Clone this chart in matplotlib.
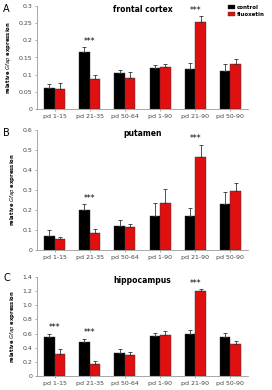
import matplotlib
matplotlib.use("Agg")
import matplotlib.pyplot as plt
import numpy as np

categories = ["pd 1-15", "pd 21-35", "pd 50-64", "pd 1-90", "pd 21-90", "pd 50-90"]

fc_control = [0.062, 0.165, 0.105, 0.120, 0.117, 0.110]
fc_control_err = [0.010, 0.015, 0.010, 0.008, 0.017, 0.020]
fc_fluox = [0.057, 0.087, 0.091, 0.122, 0.253, 0.132]
fc_fluox_err = [0.020, 0.012, 0.017, 0.010, 0.017, 0.015]

pu_control = [0.070, 0.200, 0.122, 0.170, 0.172, 0.228]
pu_control_err = [0.030, 0.028, 0.030, 0.063, 0.040, 0.060]
pu_fluox = [0.053, 0.085, 0.117, 0.233, 0.467, 0.295]
pu_fluox_err = [0.012, 0.022, 0.012, 0.073, 0.060, 0.042]

hi_control = [0.555, 0.475, 0.325, 0.570, 0.600, 0.555]
hi_control_err = [0.045, 0.055, 0.050, 0.045, 0.055, 0.060]
hi_fluox = [0.305, 0.175, 0.300, 0.575, 1.200, 0.455]
hi_fluox_err = [0.070, 0.040, 0.045, 0.065, 0.025, 0.040]

fc_sig = [1, 4]
pu_sig = [1, 4]
hi_sig = [0, 1, 4]

panels = [
    ("A", "frontal cortex", fc_control, fc_control_err, fc_fluox, fc_fluox_err, fc_sig,
     [0, 0.05, 0.1, 0.15, 0.2, 0.25, 0.3], ["0", "0.05", "0.1", "0.15", "0.2", "0.25", "0.3"], 0.3),
    ("B", "putamen", pu_control, pu_control_err, pu_fluox, pu_fluox_err, pu_sig,
     [0, 0.1, 0.2, 0.3, 0.4, 0.5, 0.6], ["0", "0.1", "0.2", "0.3", "0.4", "0.5", "0.6"], 0.6),
    ("C", "hippocampus", hi_control, hi_control_err, hi_fluox, hi_fluox_err, hi_sig,
     [0, 0.2, 0.4, 0.6, 0.8, 1.0, 1.2, 1.4], ["0", "0.2", "0.4", "0.6", "0.8", "1.0", "1.2", "1.4"], 1.4),
]

W, H = 272, 390
fig = plt.figure(figsize=(W / 100, H / 100), dpi=100)
fig.patch.set_facecolor("white")

# (top_px, bottom_px)
boxes = [(6, 109), (130, 250), (277, 376)]
left_px, right_px = 37, 248
letter_y = [4, 128, 273]

x = np.arange(len(categories))
bw = 0.3
red = "#e01010"

for i, (letter, title, c, ce, f, fe, sig, yt, ytl, ymax) in enumerate(panels):
    top, bot = boxes[i]
    hpx = bot - top
    ax = fig.add_axes([left_px / W, 1 - bot / H, (right_px - left_px) / W, hpx / H])
    ekw = dict(elinewidth=0.6, capsize=1.3, capthick=0.6, ecolor="#333333")
    ax.bar(x - bw / 2, c, bw, color="black", edgecolor="#333333", linewidth=0.3,
           yerr=[np.zeros(len(c)), ce], error_kw=ekw, label="control")
    ax.bar(x + bw / 2, f, bw, color=red, edgecolor="#333333", linewidth=0.3,
           yerr=[np.zeros(len(f)), fe], error_kw=ekw, label="fluoxetin")
    ax.set_xlim(-0.5, len(categories) - 0.5)
    ax.set_ylim(0, ymax)
    ax.set_yticks(yt)
    ax.set_yticklabels(ytl, fontsize=4.5, color="#444444")
    ax.set_xticks(x)
    ax.set_xticklabels(categories, fontsize=4.5, color="#444444")
    ax.tick_params(axis="both", length=1.5, width=0.5, color="#888888", pad=2)
    for s in ["top", "right"]:
        ax.spines[s].set_visible(False)
    for s in ["left", "bottom"]:
        ax.spines[s].set_color("#999999")
        ax.spines[s].set_linewidth(0.6)
    ax.set_ylabel("relative $\\it{Gfap}$ expression", fontsize=3.8, fontweight="bold", labelpad=4)
    ax.text(0.5, 1 - 3.5 / hpx, title, transform=ax.transAxes, ha="center", va="center",
            fontsize=5.5, fontweight="bold")
    for g in sig:
        top_val = max(c[g] + ce[g], f[g] + fe[g])
        ax.text(g, top_val + ymax * 0.012, "***", ha="center", va="bottom", fontsize=5.5)
    fig.text(3 / W, 1 - letter_y[i] / H, letter, fontsize=7, ha="left", va="top")
    if i == 0:
        ax.legend(loc="upper left", bbox_to_anchor=(0.895, 1.03), frameon=False,
                  handlelength=1.2, handleheight=0.8,
                  handletextpad=0.4, borderaxespad=0, labelspacing=0.3,
                  prop={"weight": "bold", "size": 4.0})

fig.savefig("out.png", dpi=100, facecolor="white")
